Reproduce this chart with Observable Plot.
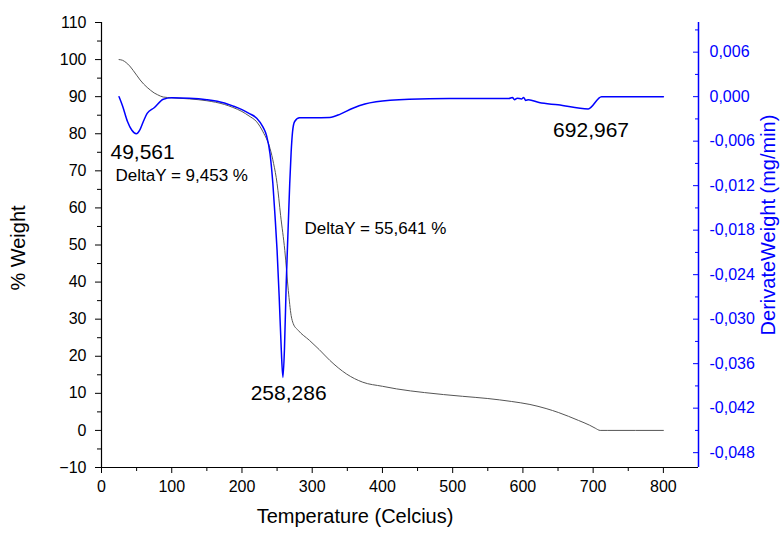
<!DOCTYPE html>
<html><head><meta charset="utf-8">
<script src="https://cdn.jsdelivr.net/npm/d3@7"></script>
<script src="https://cdn.jsdelivr.net/npm/@observablehq/plot@0.6"></script>
<style>body{margin:0;background:#fff;} svg{font-family:"Liberation Sans", Arial, sans-serif;}</style>
</head><body><div id="chart"></div>
<script>
// TGA curve (% weight vs temperature)
const tgaTemp = [25, 30, 35, 40, 45, 50, 55, 60, 65, 70, 75, 80, 88, 100, 125, 150, 175, 187, 200, 210, 221, 230, 240, 245, 250, 255, 261, 266, 270, 273, 280, 296, 310, 325, 349, 372, 400, 420, 460, 514, 550, 584, 610, 633, 651, 679, 695, 703, 710, 720, 800];
const tgaWeight = [100, 99.8, 99.2, 98.3, 97.1, 95.8, 94.5, 93.4, 92.5, 91.7, 91.0, 90.5, 89.9, 89.7, 89.4, 88.9, 87.9, 87.1, 86.0, 84.8, 83.2, 80.5, 76.0, 72.0, 66.6, 58.0, 48.5, 37.7, 31.0, 28.8, 27.0, 24.3, 21.8, 18.9, 15.2, 13.0, 11.9, 11.2, 10.2, 9.2, 8.6, 7.8, 7.0, 5.9, 4.8, 2.7, 1.4, 0.6, 0.0, 0.0, 0.0];

// DTG curve (derivative weight, mg/min)
const dtgTemp = [25, 30, 37, 43, 49.5, 55, 60, 65, 75, 88, 100, 125, 150, 175, 187, 200, 210, 221, 230, 235, 240, 244, 247, 250, 253, 256, 258.3, 260.5, 263, 266, 268, 270, 272, 275, 282, 300, 325, 340, 357, 375, 391, 438, 495, 580, 585, 588, 592, 598, 601, 604, 608, 623, 650, 693, 712, 800];
const dtgRate = [0, -0.00125, -0.00335, -0.0045, -0.005, -0.0044, -0.00325, -0.00225, -0.0015, -0.00035, -0.00015, -0.0002, -0.0004, -0.00085, -0.00125, -0.00175, -0.00225, -0.0029, -0.0041, -0.00525, -0.00775, -0.01175, -0.016, -0.02075, -0.027, -0.0342, -0.03785, -0.034, -0.0252, -0.017, -0.0117, -0.0075, -0.00475, -0.00335, -0.00285, -0.00285, -0.0028, -0.00235, -0.0016, -0.001, -0.0007, -0.00035, -0.00025, -0.00025, -0.0001, -0.0004, -0.0002, -0.0003, -0.0001, -0.0005, -0.0004, -0.0008, -0.0011, -0.00165, 0, 0];

// Axes
const xDomain = [0, 850];
const yDomain = [-10, 110];
const rightDomain = [-0.05, 0.01];
const xTicks = [0, 100, 200, 300, 400, 500, 600, 700, 800];
const xMinor = [50, 150, 250, 350, 450, 550, 650, 750];
const yTicks = [-10, 0, 10, 20, 30, 40, 50, 60, 70, 80, 90, 100, 110];
const yMinor = [-5, 5, 15, 25, 35, 45, 55, 65, 75, 85, 95, 105];
const rTicks = [0.006, 0, -0.006, -0.012, -0.018, -0.024, -0.030, -0.036, -0.042, -0.048];
const rMinor = [0.009, 0.003, -0.003, -0.009, -0.015, -0.021, -0.027, -0.033, -0.039, -0.045];

// Annotations (data coordinates: temperature, % weight)
const annoText = ["49,561", "DeltaY = 9,453 %", "DeltaY = 55,641 %", "258,286", "692,967"];
const annoT = [12.8, 19.9, 289, 212.4, 643];
const annoW = [75.1, 68.7, 54.5, 10, 81];
const annoSize = [21, 17, 17, 21, 21];

// map right-axis (derivative) values onto the left scale
const toLeft = d => yDomain[0] + (d - rightDomain[0]) / (rightDomain[1] - rightDomain[0]) * (yDomain[1] - yDomain[0]);
const fromLeft = v => rightDomain[0] + (v - yDomain[0]) / (yDomain[1] - yDomain[0]) * (rightDomain[1] - rightDomain[0]);
const fmtR = v => { const r = Math.round(v * 1000) / 1000; return (r < 0 ? "-" : "") + Math.abs(r).toFixed(3).replace(".", ","); };

const tga = tgaTemp.map((t, i) => ({t, w: tgaWeight[i]}));
const dtg = dtgTemp.map((t, i) => ({t, w: toLeft(dtgRate[i])}));
const anno = annoText.map((s, i) => ({s, t: annoT[i], w: annoW[i], size: annoSize[i]}));

const blue = "#0000ff";
const font = "Liberation Sans, Arial, sans-serif";

const chart = Plot.plot({
  width: 783, height: 538,
  marginLeft: 101, marginRight: 85, marginTop: 22, marginBottom: 71,
  style: {fontFamily: font, fontSize: "16px", background: "#fff", color: "#000"},
  x: {domain: xDomain},
  y: {domain: yDomain},
  marks: [
    Plot.axisX({ticks: xTicks, tickSize: 6, tickPadding: 7, label: null, fontSize: 16, stroke: "#000", fill: "#000"}),
    Plot.axisX({ticks: xMinor, tickSize: 4, tickFormat: () => "", label: null, stroke: "#000"}),
    Plot.axisY({ticks: yTicks, anchor: "left", tickSize: 6, tickPadding: 9, label: null, fontSize: 16, stroke: "#000", fill: "#000"}),
    Plot.axisY({ticks: yMinor, anchor: "left", tickSize: 4, tickFormat: () => "", label: null, stroke: "#000"}),
    Plot.axisY({ticks: rTicks.map(toLeft), anchor: "right", tickSize: -6, tickPadding: 17, label: null, fontSize: 16, stroke: blue, fill: blue, tickFormat: v => fmtR(fromLeft(v))}),
    Plot.axisY({ticks: rMinor.map(toLeft), anchor: "right", tickSize: -4, tickFormat: () => "", label: null, stroke: blue}),
    Plot.ruleX([xDomain[0]], {stroke: "#000", strokeWidth: 1.2}),
    Plot.ruleY([yDomain[0]], {stroke: "#000", strokeWidth: 1.2}),
    Plot.ruleX([xDomain[1]], {stroke: blue, strokeWidth: 1.5}),
    Plot.line(tga, {x: "t", y: "w", stroke: "#555", strokeWidth: 1, curve: "monotone-x"}),
    Plot.line(dtg, {x: "t", y: "w", stroke: blue, strokeWidth: 1.5, curve: "monotone-x"}),
    Plot.text(anno, {x: "t", y: "w", text: "s", fontSize: d => d.size, textAnchor: "start", fill: "#000"}),
    Plot.text(["% Weight"], {frameAnchor: "left", text: d => d, textAnchor: "middle", rotate: -90, dx: -83, dy: 3, fontSize: 20, fill: "#000"}),
    Plot.text(["DerivateWeight (mg/min)"], {frameAnchor: "right", text: d => d, textAnchor: "middle", rotate: -90, dx: 70, dy: -20, fontSize: 20, fill: blue}),
    Plot.text(["Temperature (Celcius)"], {frameAnchor: "bottom", text: d => d, textAnchor: "middle", dx: -45, dy: 55, fontSize: 20, fill: "#000"})
  ]
});
document.getElementById("chart").appendChild(chart);
</script>
</body></html>
